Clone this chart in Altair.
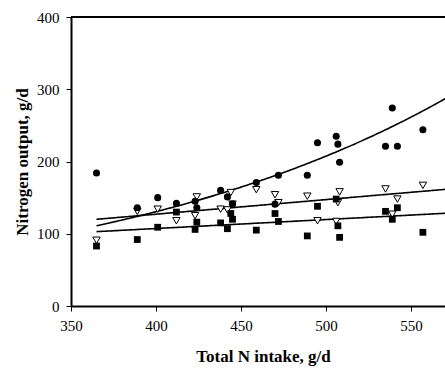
import altair as alt
import pandas as pd

# Total N intake (g/d) and N output (g/d) for each fraction
circle_intake = [365, 389, 401, 412, 423, 424, 438, 442, 445, 459, 470,
                 472, 489, 495, 506, 507, 508, 535, 539, 542, 557]
circle_output = [184, 136, 150, 142, 145, 136, 160, 151, 141, 171, 141,
                 181, 181, 226, 235, 224, 199, 221, 274, 221, 244]

triangle_intake = [365, 389, 401, 412, 423, 424, 438, 442, 444, 445, 459,
                   470, 472, 489, 495, 506, 507, 508, 535, 539, 542, 557]
triangle_output = [91, 131, 134, 118, 125, 151, 134, 133, 157, 141, 161,
                   154, 143, 152, 118, 117, 143, 158, 162, 127, 148, 167]

square_intake = [365, 389, 401, 412, 423, 424, 438, 442, 444, 445, 459,
                 470, 472, 489, 495, 506, 507, 508, 535, 539, 542, 557]
square_output = [83, 92, 109, 130, 106, 116, 115, 107, 128, 120, 105,
                 128, 117, 97, 138, 148, 111, 95, 131, 120, 136, 102]

x_ticks = [350, 400, 450, 500, 550]
y_ticks = [0, 50, 100, 150, 200, 250, 300, 350, 400]

# Fitted response curves, referenced to an intake of 365 g/d:
# exponential for the circles, straight lines for triangles and squares
FIT_X0 = 365
circle_fit = {"a": 111.0, "b": 0.00463}
triangle_fit = {"a": 120.0, "b": 0.202}
square_fit = {"a": 102.9, "b": 0.124}

df_circle = pd.DataFrame({"intake": circle_intake, "output": circle_output})
df_triangle = pd.DataFrame({"intake": triangle_intake, "output": triangle_output})
df_square = pd.DataFrame({"intake": square_intake, "output": square_output})

FONT = "'Liberation Serif', 'Times New Roman', 'DejaVu Serif', serif"

x_enc = alt.X(
    "intake:Q",
    scale=alt.Scale(domain=[350, 570], nice=False, zero=False),
    axis=alt.Axis(values=x_ticks, title="Total N intake, g/d", titleX=192),
)
y_enc = alt.Y(
    "output:Q",
    scale=alt.Scale(domain=[0, 400], nice=False),
    axis=alt.Axis(values=y_ticks, title="Nitrogen output, g/d", titleX=-40),
)

circles = alt.Chart(df_circle).mark_point(
    shape="circle", filled=True, color="black", size=50, opacity=1
).encode(x=x_enc, y=y_enc)

squares = alt.Chart(df_square).mark_point(
    shape="square", filled=True, color="black", size=46, opacity=1
).encode(x=x_enc, y=y_enc)

triangles = alt.Chart(df_triangle).mark_point(
    shape="triangle-down", filled=True, fill="white", stroke="black",
    strokeWidth=1, size=55, opacity=1
).encode(x=x_enc, y=y_enc)


def fit_curve(params, kind):
    if kind == "exp":
        expr = f"{params['a']} * exp({params['b']} * (datum.intake - {FIT_X0}))"
    else:
        expr = f"{params['a']} + {params['b']} * (datum.intake - {FIT_X0})"
    return alt.Chart(alt.sequence(FIT_X0, 572, 1, as_="intake")).transform_calculate(
        output=expr
    ).mark_line(color="black", strokeWidth=1.6, clip=True).encode(
        x=alt.X("intake:Q"), y=alt.Y("output:Q")
    )


top_border = alt.Chart(pd.DataFrame({"v": [400]})).mark_rule(
    color="black", strokeWidth=2
).encode(y=alt.Y("v:Q"))

chart = alt.layer(
    fit_curve(circle_fit, "exp"),
    fit_curve(triangle_fit, "linear"),
    fit_curve(square_fit, "linear"),
    triangles,
    squares,
    circles,
    top_border,
).properties(
    width=374,
    height=289,
    autosize="none",
    padding={"left": 71, "top": 17, "right": 0, "bottom": 63},
).configure_view(
    stroke=None
).configure_axis(
    grid=False,
    domainColor="black",
    domainWidth=2,
    tickColor="black",
    tickWidth=1,
    tickSize=5,
    labelFlush=False,
    labelFont=FONT,
    labelFontSize=15,
    labelColor="black",
    titleFont=FONT,
    titleFontSize=17,
    titleFontWeight="bold",
    titleColor="black",
).configure_axisX(
    labelPadding=7,
    titlePadding=15,
).configure_axisY(
    labelPadding=7,
)

chart.save("out.html", embed_options={"renderer": "svg", "actions": False})
